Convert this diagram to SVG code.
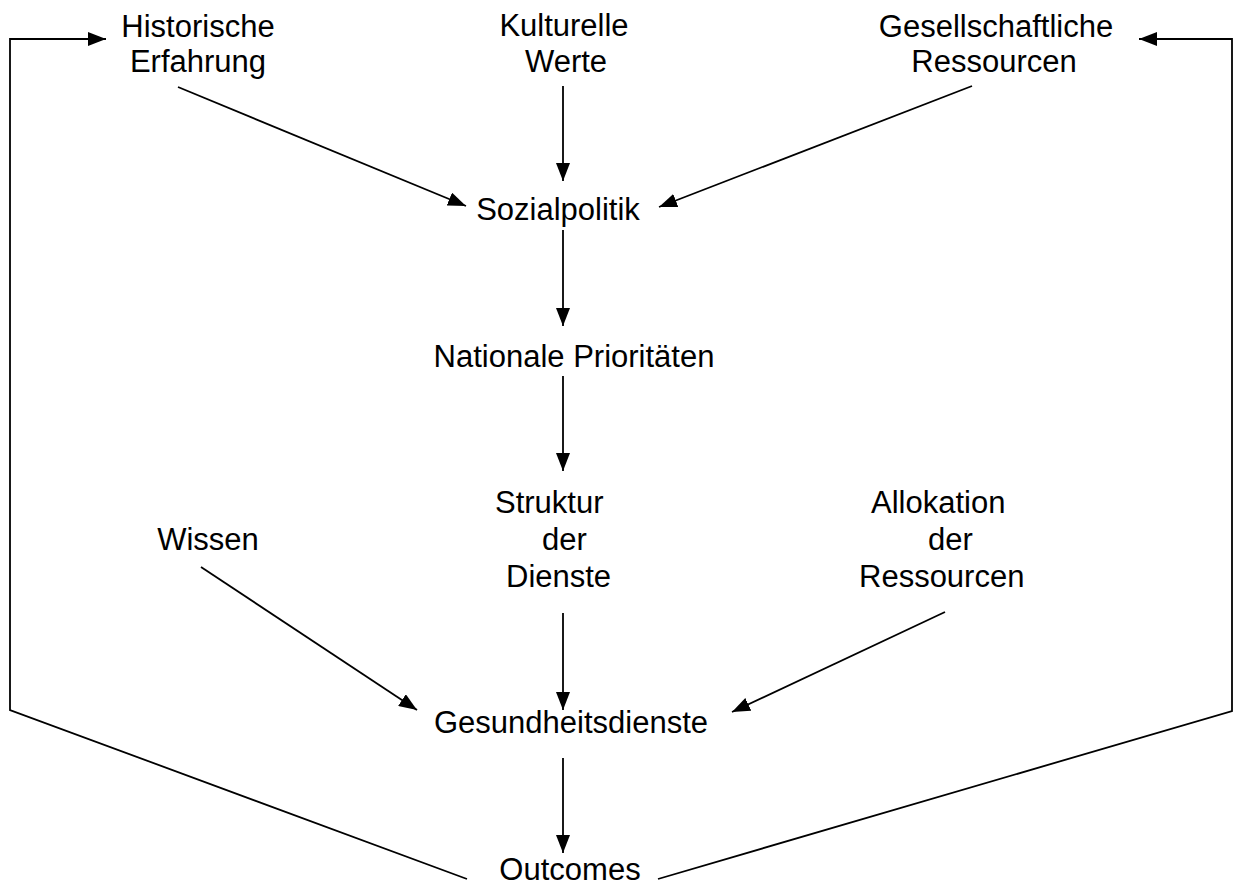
<svg xmlns="http://www.w3.org/2000/svg" width="1235" height="887" viewBox="0 0 1235 887">
<style>
text{font-family:"Liberation Sans",Arial,sans-serif;font-size:31px;fill:#000}
.c{text-anchor:middle}
.ln{fill:none;stroke:#000;stroke-width:1.8}
</style>
<defs>
<marker id="ah" viewBox="0 0 18 14" refX="18" refY="7" markerWidth="18" markerHeight="14" markerUnits="userSpaceOnUse" orient="auto">
<path d="M0,0 L18,7 L0,14 Z" fill="#000"/>
</marker>
</defs>
<rect width="1235" height="887" fill="#fff"/>
<g id="n-hist"><text class="c" x="198" y="37">Historische</text><text class="c" x="198" y="72">Erfahrung</text></g>
<g id="n-kult"><text class="c" x="564" y="36">Kulturelle</text><text class="c" x="566" y="72">Werte</text></g>
<g id="n-gesell"><text class="c" x="996" y="37">Gesellschaftliche</text><text class="c" x="994" y="72">Ressourcen</text></g>
<g id="n-sozial"><text class="c" x="558" y="220">Sozialpolitik</text></g>
<g id="n-nat"><text class="c" x="574" y="367">Nationale Prioritäten</text></g>
<g id="n-wissen"><text class="c" x="208" y="550">Wissen</text></g>
<g id="n-struktur"><text x="495" y="513">Struktur</text><text x="542" y="550">der</text><text x="506" y="587">Dienste</text></g>
<g id="n-alloc"><text x="871" y="513">Allokation</text><text x="928" y="550">der</text><text x="859" y="587">Ressourcen</text></g>
<g id="n-gesund"><text class="c" x="571" y="733">Gesundheitsdienste</text></g>
<g id="n-out"><text class="c" x="570" y="880">Outcomes</text></g>
<g id="connectors">
<line class="ln" x1="178" y1="87" x2="466" y2="206" marker-end="url(#ah)"/>
<line class="ln" x1="563" y1="86" x2="563" y2="181" marker-end="url(#ah)"/>
<line class="ln" x1="972" y1="86" x2="659" y2="207" marker-end="url(#ah)"/>
<line class="ln" x1="563" y1="230" x2="563" y2="326" marker-end="url(#ah)"/>
<line class="ln" x1="563" y1="376" x2="563" y2="471" marker-end="url(#ah)"/>
<line class="ln" x1="563" y1="613" x2="563" y2="710" marker-end="url(#ah)"/>
<line class="ln" x1="201" y1="567" x2="417" y2="710" marker-end="url(#ah)"/>
<line class="ln" x1="945" y1="612" x2="732" y2="712" marker-end="url(#ah)"/>
<line class="ln" x1="563" y1="758" x2="563" y2="853" marker-end="url(#ah)"/>
<polyline class="ln" points="467,879 10,710 10,39 106,39" marker-end="url(#ah)"/>
<polyline class="ln" points="658,879 1232,711 1232,39 1139,39" marker-end="url(#ah)"/>
</g>
</svg>
